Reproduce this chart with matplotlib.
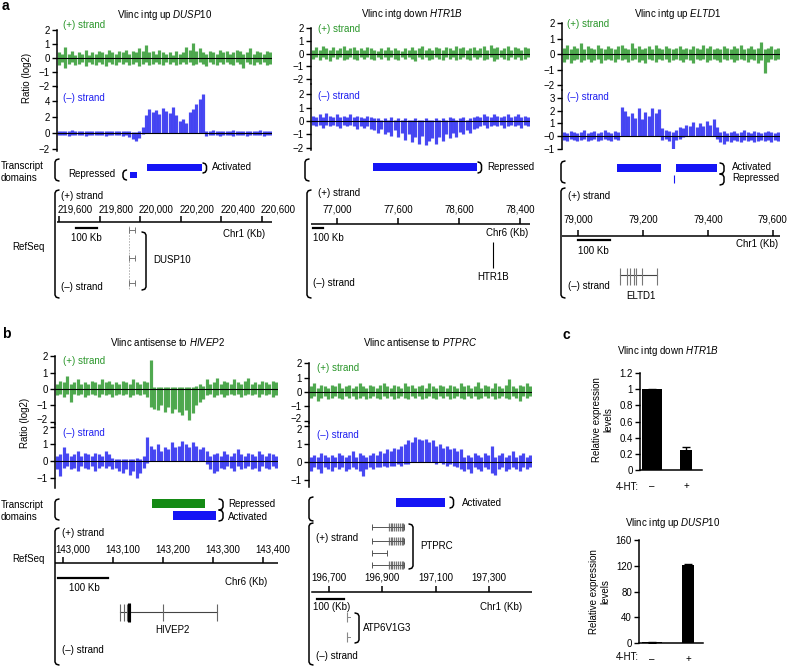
import matplotlib
matplotlib.use('Agg')
import matplotlib.pyplot as plt
import matplotlib.transforms as mtransforms
import numpy as np

plt.rcParams['font.family'] = ['Liberation Sans', 'DejaVu Sans']
plt.rcParams['mathtext.fontset'] = 'custom'
plt.rcParams['mathtext.it'] = 'Liberation Sans:italic'
plt.rcParams['mathtext.rm'] = 'Liberation Sans'

W, H = 788, 667
fig = plt.figure(figsize=(W / 100, H / 100), dpi=100)

# ---------------- data ----------------
# panel a, DUSP10 (+) and (-) strand envelopes (upper / lower)
a1p_up = [0.4,0.3,0.8,0.3,0.5,0.2,0.4,0.3,0.6,0.2,0.4,0.3,0.5,0.4,0.3,0.6,0.4,0.3,0.5,0.4,0.6,0.3,0.5,0.4,0.7,0.5,0.9,0.4,0.5,0.3,0.6,0.4,0.3,0.4,0.2,0.5,0.3,0.4,0.8,0.6,1.1,0.5,0.7,0.4,0.3,0.5,0.4,0.3,0.6,0.4,0.5,0.3,0.4,0.6,0.5,0.3,0.4,0.7,0.3,0.5,0.4,0.3,0.5,0.4]
a1p_dn = [-0.5,-0.3,-0.7,-0.4,-0.3,-0.5,-0.4,-0.3,-0.6,-0.3,-0.4,-0.5,-0.3,-0.4,-0.6,-0.3,-0.4,-0.5,-0.3,-0.4,-0.3,-0.5,-0.4,-0.3,-0.6,-0.4,-0.3,-0.5,-0.4,-0.3,-0.4,-0.5,-0.3,-0.4,-0.3,-0.5,-0.4,-0.3,-0.4,-0.3,-0.5,-0.4,-0.3,-0.4,-0.6,-0.3,-0.4,-0.5,-0.3,-0.4,-0.3,-0.4,-0.5,-0.3,-0.4,-0.7,-0.3,-0.4,-0.5,-0.3,-0.4,-0.3,-0.5,-0.4]
a1m_up = [0.3,0.2,0.3,0.2,0.4,0.2,0.3,0.2,0.3,0.3,0.2,0.3,0.2,0.3,0.2,0.3,0.2,0.3,0.2,0.3,0.2,0.2,0.1,0.1,0.2,0.8,2.2,3.0,2.6,2.9,2.4,3.1,2.7,2.5,3.2,2.3,1.5,1.8,1.2,2.6,3.0,3.6,4.2,4.9,0.3,0.2,0.4,0.2,0.3,0.2,0.3,0.2,0.4,0.2,0.3,0.2,0.3,0.2,0.3,0.2,0.4,0.2,0.3,0.2]
a1m_dn = [-0.3,-0.2,-0.3,-0.4,-0.2,-0.3,-0.2,-0.3,-0.4,-0.2,-0.3,-0.2,-0.3,-0.2,-0.4,-0.2,-0.3,-0.2,-0.3,-0.4,-0.3,-0.5,-0.8,-1.0,-0.6,-0.1,0,0,0,0,0,0,0,0,0,0,0,0,0,0,0,0,0,0,-0.4,-0.3,-0.2,-0.3,-0.4,-0.2,-0.3,-0.2,-0.4,-0.3,-0.2,-0.3,-0.4,-0.2,-0.3,-0.2,-0.3,-0.4,-0.2,-0.3]
# HTR1B
a2p_up = [0.3,0.5,0.3,0.6,0.4,0.3,0.5,0.3,0.4,0.6,0.3,0.4,0.5,0.3,0.4,0.3,0.5,0.4,0.3,0.2,0.4,0.3,0.5,0.3,0.4,0.3,0.2,0.4,0.3,0.5,0.3,0.4,0.6,0.3,0.4,0.3,0.5,0.4,0.3,0.5,0.4,0.3,0.6,0.4,0.5,0.3,0.4,0.5,0.3,0.4,0.6,0.3,0.7,0.4,0.5,0.3,0.4,0.6,0.3,0.5,0.4,0.3,0.5,0.4]
a2p_dn = [-0.4,-0.3,-0.5,-0.3,-0.4,-0.6,-0.3,-0.4,-0.3,-0.5,-0.4,-0.3,-0.4,-0.5,-0.3,-0.4,-0.3,-0.4,-0.5,-0.3,-0.4,-0.3,-0.5,-0.3,-0.4,-0.5,-0.3,-0.4,-0.3,-0.4,-0.6,-0.3,-0.4,-0.3,-0.5,-0.4,-0.3,-0.4,-0.5,-0.3,-0.4,-0.3,-0.5,-0.4,-0.3,-0.4,-0.5,-0.3,-0.4,-0.3,-0.5,-0.4,-0.3,-0.6,-0.4,-0.3,-0.4,-0.5,-0.3,-0.4,-0.3,-0.5,-0.4,-0.3]
a2m_up = [0.4,0.3,0.5,0.3,0.6,0.4,0.3,0.5,0.3,0.4,0.3,0.5,0.3,0.4,0.3,0.2,0.4,0.3,0.2,0.2,0.1,0.2,0.1,0.3,0.1,0.2,0.1,0.2,0.1,0.1,0.2,0.1,0.1,0.2,0.1,0.1,0.2,0.1,0.2,0.1,0.3,0.2,0.1,0.2,0.3,0.1,0.2,0.3,0.4,0.3,0.5,0.4,0.3,0.5,0.4,0.3,0.4,0.5,0.3,0.4,0.5,0.3,0.4,0.3]
a2m_dn = [-0.3,-0.4,-0.3,-0.5,-0.3,-0.4,-0.3,-0.4,-0.5,-0.3,-0.4,-0.3,-0.4,-0.6,-0.4,-0.5,-0.4,-0.6,-0.7,-0.9,-0.6,-1.0,-0.8,-1.1,-0.7,-1.2,-0.9,-1.4,-1.0,-1.6,-1.2,-1.7,-1.1,-1.8,-1.5,-1.3,-1.7,-1.2,-1.5,-1.0,-1.3,-0.9,-1.2,-0.8,-1.0,-0.7,-0.9,-0.6,-0.5,-0.4,-0.3,-0.5,-0.4,-0.3,-0.4,-0.3,-0.5,-0.4,-0.3,-0.4,-0.3,-0.5,-0.3,-0.4]
# ELTD1
a3p_up = [0.4,0.6,0.3,0.5,0.4,0.7,0.3,0.5,0.4,0.3,0.6,0.4,0.3,0.5,0.4,0.3,0.5,0.6,0.4,0.3,0.7,0.4,0.5,0.3,0.4,0.5,0.3,0.6,0.4,0.3,0.5,0.4,0.3,0.4,0.5,0.3,0.4,0.3,0.5,0.4,0.3,0.6,0.4,0.5,0.3,0.4,0.3,0.5,0.4,0.3,0.5,0.4,0.6,0.3,0.4,0.5,0.3,0.4,0.8,0.3,0.4,0.5,0.3,0.4]
a3p_dn = [-0.5,-0.3,-0.6,-0.4,-0.3,-0.5,-0.4,-0.3,-0.5,-0.4,-0.3,-0.6,-0.4,-0.3,-0.4,-0.5,-0.3,-0.4,-0.3,-0.5,-0.4,-0.3,-0.5,-0.4,-0.6,-0.3,-0.4,-0.5,-0.3,-0.4,-0.3,-0.5,-0.4,-0.3,-0.4,-0.5,-0.3,-0.4,-0.6,-0.3,-0.4,-0.3,-0.5,-0.4,-0.3,-0.4,-0.5,-0.3,-0.4,-0.3,-0.5,-0.4,-0.3,-0.4,-0.5,-0.3,-0.4,-0.6,-0.4,-1.2,-0.5,-0.3,-0.4,-0.3]
a3m_up = [0.3,0.2,0.4,0.3,0.2,0.3,0.5,0.2,0.3,0.4,0.2,0.3,0.5,0.3,0.2,0.4,0.3,2.3,2.0,1.6,1.8,1.4,2.2,1.3,1.9,1.6,2.2,1.8,2.1,0.6,0.5,0.4,0.3,0.5,0.7,0.6,0.9,0.8,1.1,0.7,1.0,0.8,1.2,0.9,1.3,0.7,0.3,0.4,0.2,0.3,0.4,0.2,0.3,0.5,0.3,0.2,0.4,0.3,0.2,0.3,0.4,0.3,0.2,0.3]
a3m_dn = [-0.3,-0.4,-0.2,-0.3,-0.4,-0.3,-0.2,-0.4,-0.3,-0.2,-0.4,-0.3,-0.2,-0.3,-0.4,-0.2,-0.3,0,0,0,0,0,0,0,0,0,0,0,0,-0.3,-0.2,-0.4,-1.0,-0.3,-0.2,-0.1,0,0,0,0,0,0,0,0,0,-0.2,-0.5,-0.6,-0.4,-0.5,-0.3,-0.4,-0.5,-0.3,-0.4,-0.3,-0.5,-0.4,-0.3,-0.4,-0.3,-0.5,-0.3,-0.4]
# panel b, HIVEP2
b1p_up = [0.3,0.5,0.4,0.8,0.3,0.4,0.6,0.3,0.4,0.3,0.5,0.4,0.3,0.6,0.4,0.5,0.3,0.4,0.3,0.5,0.4,0.3,0.6,0.4,0.3,0.5,0.4,1.8,0.1,0.1,0.1,0.1,0.1,0.1,0.1,0.1,0.1,0.1,0.1,0.1,0.2,0.3,0.2,0.6,0.3,0.4,0.7,0.3,0.5,0.4,0.3,0.6,0.4,0.3,0.5,0.7,0.3,0.4,0.3,0.5,0.4,0.3,0.5,0.4]
b1p_dn = [-0.4,-0.3,-0.5,-0.3,-0.8,-0.3,-0.4,-0.3,-0.5,-0.4,-0.3,-0.4,-0.5,-0.3,-0.4,-0.3,-0.5,-0.4,-0.3,-0.4,-0.3,-0.5,-0.4,-0.3,-0.4,-0.3,-0.5,-1.1,-1.2,-1.3,-1.0,-1.4,-1.1,-1.5,-1.2,-1.4,-1.6,-1.3,-1.9,-1.5,-1.0,-0.8,-0.6,-0.4,-0.3,-0.5,-0.4,-0.3,-0.5,-0.4,-0.3,-0.4,-0.3,-0.5,-0.4,-0.3,-0.4,-0.3,-0.5,-0.3,-0.4,-0.3,-0.5,-0.4]
b1m_up = [0.3,0.4,0.8,0.5,0.3,0.4,0.6,0.3,0.5,0.4,0.3,0.5,0.4,0.3,0.6,0.4,0.2,0.1,0.1,0.1,0.1,0.1,0.1,0.2,0.1,0.3,1.4,0.9,0.7,1.0,0.6,0.8,0.7,1.1,0.8,0.9,1.2,1.0,0.8,1.1,0.9,0.7,0.8,0.6,0.3,0.4,0.5,0.3,0.6,0.4,0.3,0.5,0.7,0.4,0.3,0.5,0.4,0.3,0.6,0.4,0.3,0.5,0.4,0.3]
b1m_dn = [-0.5,-0.9,-0.4,-0.3,-0.5,-0.4,-0.6,-0.3,-0.4,-0.5,-0.3,-0.6,-0.4,-0.3,-0.4,-0.3,-0.5,-0.4,-0.6,-0.7,-0.5,-0.8,-0.6,-1.0,-0.7,-0.4,-0.1,0,0,0,0,0,0,0,0,0,0,0,0,0,0,0,0,-0.2,-0.5,-0.7,-0.6,-0.4,-0.5,-0.3,-0.4,-0.6,-0.3,-0.5,-0.4,-0.3,-0.5,-0.4,-0.6,-0.3,-0.4,-0.5,-0.3,-0.4]
# PTPRC
b2p_up = [0.4,0.6,0.3,0.5,0.4,0.3,0.5,0.4,0.6,0.3,0.4,0.5,0.3,0.4,0.6,0.4,0.3,0.5,0.4,0.3,0.5,0.6,0.4,0.3,0.5,0.4,0.3,0.6,0.4,0.5,0.3,0.4,0.5,0.3,0.6,0.4,0.3,0.5,0.4,0.3,0.5,0.4,0.3,0.6,0.4,0.5,0.3,0.4,0.7,0.3,0.5,0.4,0.3,0.6,0.4,0.3,0.5,0.9,0.4,0.3,0.5,0.4,0.6,0.4]
b2p_dn = [-0.4,-0.3,-0.6,-0.4,-0.3,-0.5,-0.4,-0.3,-0.4,-0.5,-0.3,-0.4,-0.3,-0.5,-0.4,-0.3,-0.5,-0.4,-0.3,-0.4,-0.5,-0.3,-0.4,-0.3,-0.5,-0.4,-0.3,-0.4,-0.5,-0.3,-0.4,-0.3,-0.5,-0.4,-0.3,-0.4,-0.5,-0.3,-0.4,-0.3,-0.5,-0.4,-0.3,-0.4,-0.5,-0.3,-0.4,-0.3,-0.5,-0.4,-0.3,-0.4,-0.3,-0.5,-0.4,-0.3,-0.4,-0.5,-0.3,-0.4,-0.6,-0.3,-0.4,-0.3]
b2m_up = [0.3,0.4,0.3,0.5,0.4,0.3,0.4,0.3,0.5,0.4,0.3,0.4,0.6,0.3,0.5,0.4,0.3,0.4,0.5,0.4,0.6,0.5,0.7,0.6,0.8,0.7,0.9,1.0,1.2,1.1,1.4,1.3,1.2,1.3,1.1,1.2,0.9,1.0,0.8,0.9,0.7,0.8,0.6,0.7,0.3,0.4,0.3,0.5,0.4,0.3,0.5,0.4,0.9,0.3,0.4,0.5,0.3,0.4,0.6,0.3,0.4,0.5,0.3,0.4]
b2m_dn = [-0.5,-0.3,-0.4,-0.6,-0.3,-0.4,-0.5,-0.3,-0.4,-0.3,-0.5,-0.4,-0.3,-0.4,-0.5,-0.8,-0.4,-0.3,-0.4,-0.3,-0.3,-0.2,-0.3,-0.2,-0.2,-0.1,-0.2,-0.1,-0.1,0,0,0,0,0,0,0,-0.1,0,-0.1,-0.2,-0.1,-0.2,-0.3,-0.4,-0.5,-0.4,-0.6,-0.3,-0.4,-0.5,-0.3,-0.4,-0.6,-0.7,-0.4,-0.3,-0.5,-0.4,-0.3,-0.4,-0.5,-0.3,-0.4,-0.3]

# genomic coordinates (Kb)
a1_ticks = [219600, 219800, 220000, 220200, 220400, 220600]
a1_ticklabels = ['219,600', '219,800', '220,000', '220,200', '220,400', '220,600']
a2_ticks = [77000, 77600, 78200, 78800]
a2_ticklabels = ['77,000', '77,600', '78,600', '78,400']
a3_ticks = [79000, 79200, 79400, 79600]
a3_ticklabels = ['79,000', '79,200', '79,400', '79,600']
b1_ticks = [143000, 143100, 143200, 143300, 143400]
b1_ticklabels = ['143,000', '143,100', '143,200', '143,300', '143,400']
b2_ticks = [196700, 196900, 197100, 197300]
b2_ticklabels = ['196,700', '196,900', '197,100', '197,300']

a1_activated = (220033, 220304)
a1_repressed = (219950, 219984)
a2_repressed = (77354, 78377)
a3_domains = [(79120, 79255), (79302, 79428)]
a3_repressed_mark = 79295
b1_repressed = (143178, 143284)
b1_activated = (143220, 143306)
b2_activated = (196951, 197135)

dusp10 = (219945, 219975)
htr1b = 78534
eltd1 = (79129, 79243)
eltd1_exons = [79129, 79151, 79160, 79172, 79178, 79197, 79243]
hivep2 = (143114, 143308)
hivep2_exons = [143114, 143122, 143128, 143134, 143200, 143308]
hivep2_thick = 143132
ptprc_start = 196861
ptprc_ends = [196981, 196981, 196918, 196981]
ptprc_exons = [196925, 196932, 196938, 196944, 196950, 196958, 196965, 196972, 196978]
atp6v1g3 = 196767

# panel c
c_groups = ['–', '+']
c1_values = [1.0, 0.25]
c1_err = [0.005, 0.04]
c2_values = [1.0, 121.0]
c2_err = [0.3, 1.0]

GREEN = '#2a962a'
BLUE = '#2020f0'
DOM_BLUE = '#1515f5'
DOM_GREEN = '#148a14'
FS = 7


def pax(x0, y0, x1, y1):
    return fig.add_axes([x0 / W, 1 - y1 / H, (x1 - x0) / W, (y1 - y0) / H])


ov = fig.add_axes([0, 0, 1, 1])
ov.set_xlim(0, W)
ov.set_ylim(H, 0)
ov.axis('off')


def txt(x, y, s, ha='left', va='center', **kw):
    kw.setdefault('fontsize', FS)
    ov.text(x, y, s, ha=ha, va=va, **kw)


def lbrack(x, y0, y1, w=4):
    ov.plot([x + w, x + 1.2, x, x, x + 1.2, x + w], [y0, y0 + 0.8, y0 + 3, y1 - 3, y1 - 0.8, y1],
            color='black', lw=1.1, solid_capstyle='round')


def rbrack(x, y0, y1, w=4):
    ov.plot([x, x + w - 1.2, x + w, x + w, x + w - 1.2, x], [y0, y0 + 0.8, y0 + 3, y1 - 3, y1 - 0.8, y1],
            color='black', lw=1.1, solid_capstyle='round')


def shift_label(ax, idx, dy_px):
    lab = ax.get_yticklabels()[idx]
    off = mtransforms.ScaledTranslation(0, -dy_px / 100, fig.dpi_scale_trans)
    lab.set_transform(lab.get_transform() + off)


def track(box, up, dn, color, ylim, ticks, labels=None):
    x0, x1, y0, y1 = box
    ax = pax(x0, y0, x1, y1)
    n = len(up)
    x = np.arange(n)
    ax.vlines(x, dn, up, color=color, lw=2.3, alpha=0.82)
    ax.axhline(0, color='black', lw=0.8)
    ax.set_xlim(-0.5, n - 0.5)
    ax.set_ylim(*ylim)
    for s in ['top', 'right', 'bottom']:
        ax.spines[s].set_visible(False)
    ax.spines['left'].set_linewidth(1.1)
    ax.set_xticks([])
    ax.set_yticks(ticks)
    if labels is not None:
        ax.set_yticklabels(labels)
    ax.tick_params(axis='y', length=3.5, width=1, labelsize=FS, pad=1.5)
    ax.patch.set_alpha(0)
    return ax


def kbax(x0, x1, y0, y1, xlim):
    ax = pax(x0, y0, x1, y1)
    ax.set_xlim(*xlim)
    ax.set_ylim(y1, y0)
    ax.axis('off')
    ax.patch.set_alpha(0)
    return ax


def genome_axis(ax, ticks, labels, yaxis, ylab, xstart, xend, lab_off=0):
    ax.plot([xstart, xend], [yaxis, yaxis], color='black', lw=1.1)
    ax.vlines(ticks, yaxis - 6, yaxis, color='black', lw=1.1)
    for t, l in zip(ticks, labels):
        ax.text(t + lab_off, ylab, l, ha='center', va='center', fontsize=FS, clip_on=False)


def dom(ax, span, y0, y1, color):
    ax.barh((y0 + y1) / 2, span[1] - span[0], left=span[0], height=y1 - y0, color=color, lw=0)


# ---------------- panel a ----------------
txt(2, 6, 'a', fontsize=10, fontweight='bold')
txt(165, 15, r'Vlinc intg up $\mathit{DUSP10}$', ha='center')
txt(412, 14, r'Vlinc intg down $\mathit{HTR1B}$', ha='center')
txt(678, 14, r'Vlinc intg up $\mathit{ELTD1}$', ha='center')

track((57, 272, 30, 87), a1p_up, a1p_dn, GREEN, (-2.07, 2.0), [-2, -1, 0, 1, 2])
track((57, 272, 87, 151), a1m_up, a1m_dn, BLUE, (-2.25, 5.75), [-2, 0, 2, 4])
track((311, 530, 28, 84), a2p_up, a2p_dn, GREEN, (-2.39, 2.0), [-2, -1, 0, 1, 2])
track((311, 530, 84, 150), a2m_up, a2m_dn, BLUE, (-2.16, 2.76), [-2, -1, 0, 1, 2])
track((562, 780, 23, 90), a3p_up, a3p_dn, GREEN, (-2.32, 2.0), [-2, -1, 0, 1, 2])
track((562, 780, 90, 149), a3m_up, a3m_dn, BLUE, (-1.02, 3.61), [-1, 0, 1, 2, 3],
      ['−1', '−0', '1', '2', '3'])

for (x, yp, ym) in [(63, 25, 98), (318, 29, 96), (567, 24, 97)]:
    txt(x, yp, '(+) strand', color=GREEN)
    txt(x, ym, '(–) strand', color=BLUE)
txt(27, 78, 'Ratio (log2)', ha='center', rotation=90)

txt(1, 172, 'Transcript\ndomains', linespacing=1.15)
txt(12, 247, 'RefSeq')

# a1 annotation
k1 = kbax(57, 272, 155, 300, (219590, 220649))
dom(k1, a1_activated, 164, 171, DOM_BLUE)
dom(k1, a1_repressed, 172, 178, DOM_BLUE)
genome_axis(k1, a1_ticks, a1_ticklabels, 222, 210, 219600 - 2 / 0.203, 220649, lab_off=80)
k1.plot([219685, 219785], [228, 228], color='black', lw=1.6)
k1.vlines(dusp10[0], 226, 290, color='#aaaaaa', lw=0.6, linestyles=(0, (2, 1.5)))
for yy in [230, 258, 283]:
    k1.plot(list(dusp10), [yy, yy], color='#777777', lw=0.7)
    k1.vlines(list(dusp10), yy - 3, yy + 3, color='#777777', lw=0.7)
lbrack(55, 159, 181)
lbrack(123, 170, 180, w=3.5)
txt(115, 174, 'Repressed', ha='right')
rbrack(203, 163, 173, w=3.5)
txt(212, 167, 'Activated')
lbrack(55, 190, 298)
txt(61, 196, '(+) strand')
txt(86, 238, '100 Kb', ha='center')
txt(265, 234, 'Chr1 (Kb)', ha='right')
rbrack(142, 232, 290, w=4)
txt(153, 260, 'DUSP10')
txt(61, 287, '(–) strand')

# a2 annotation
k2 = kbax(311, 530, 155, 300, (76744, 78898))
dom(k2, a2_repressed, 163, 171, DOM_BLUE)
genome_axis(k2, a2_ticks, a2_ticklabels, 224, 210, 76744, 78898)
k2.plot([76763, 76863], [228, 228], color='black', lw=1.6)
k2.vlines(htr1b, 242, 268, color='black', lw=0.8)
lbrack(305, 159, 181)
rbrack(478, 162, 173, w=3.5)
txt(487, 167, 'Repressed')
lbrack(307, 190, 298)
txt(318, 193, '(+) strand')
txt(313, 238, '100 Kb')
txt(528, 233, 'Chr6 (Kb)', ha='right')
txt(493, 277, 'HTR1B', ha='center')
txt(313, 283, '(–) strand')

# a3 annotation
k3 = kbax(562, 780, 155, 300, (78951, 79622))
for d in a3_domains:
    dom(k3, d, 164, 172, DOM_BLUE)
k3.vlines(a3_repressed_mark, 175, 183, color=DOM_BLUE, lw=0.8)
genome_axis(k3, a3_ticks, a3_ticklabels, 236, 220, 78951, 79622)
k3.plot([79000, 79098], [240, 240], color='black', lw=1.6)
k3.plot(list(eltd1), [275, 275], color='#444444', lw=0.8)
k3.vlines(eltd1_exons, 268, 285, color='#777777', lw=0.8)
lbrack(561, 161, 183)
rbrack(720, 163, 174, w=4)
rbrack(720, 174, 185, w=4)
txt(732, 167, 'Activated')
txt(732, 178, 'Repressed')
lbrack(561, 188, 298)
txt(568, 196, '(+) strand')
txt(593, 251, '100 Kb', ha='center')
txt(778, 244, 'Chr1 (Kb)', ha='right')
txt(641, 296, 'ELTD1', ha='center')
txt(568, 286, '(–) strand')

# ---------------- panel b ----------------
txt(2, 334, 'b', fontsize=10, fontweight='bold')
txt(168, 342, r'Vlinc antisense to $\mathit{HIVEP2}$', ha='center')
txt(420, 342, r'Vlinc antisense to $\mathit{PTPRC}$', ha='center')

t = track((55, 278, 356, 424), b1p_up, b1p_dn, GREEN, (-2.15, 2.02), [-2, -1, 0, 1, 2])
shift_label(t, 0, -3)
t = track((55, 278, 424, 488), b1m_up, b1m_dn, BLUE, (-1.59, 2.18), [-1, 0, 1, 2])
shift_label(t, 3, 3)
t = track((309, 532, 363, 423), b2p_up, b2p_dn, GREEN, (-2.17, 2.03), [-2, -1, 0, 1, 2])
shift_label(t, 0, -3)
t = track((309, 532, 423, 487), b2m_up, b2m_dn, BLUE, (-1.39, 2.17), [-1, 0, 1, 2])
shift_label(t, 3, 3)

for (x, yp, ym) in [(63, 361, 433), (317, 368, 435)]:
    txt(x, yp, '(+) strand', color=GREEN)
    txt(x, ym, '(–) strand', color=BLUE)
txt(25, 423, 'Ratio (log2)', ha='center', rotation=90)
txt(1, 511, 'Transcript\ndomains', linespacing=1.15)
txt(12, 559, 'RefSeq')

# b1 annotation
m1 = kbax(55, 278, 495, 667, (142984, 143430))
dom(m1, b1_repressed, 499, 508, DOM_GREEN)
dom(m1, b1_activated, 511, 520, DOM_BLUE)
genome_axis(m1, b1_ticks, b1_ticklabels, 563, 549, 142984, 143430, lab_off=20)
m1.plot([142990, 143090], [578, 578], color='black', lw=1.6)
m1.plot(list(hivep2), [612, 612], color='#444444', lw=0.8)
m1.vlines(hivep2_exons, 604, 621, color='#666666', lw=0.8)
m1.vlines(hivep2_thick, 603, 622, color='black', lw=2.2)
lbrack(55, 499, 520)
rbrack(219, 499, 510, w=4)
rbrack(219, 510, 521, w=4)
txt(228, 504, 'Repressed')
txt(228, 517, 'Activated')
lbrack(55, 528, 665)
txt(62, 533, '(+) strand')
txt(84, 588, '100 Kb', ha='center')
txt(267, 582, 'Chr6 (Kb)', ha='right')
txt(172, 630, 'HIVEP2', ha='center')
txt(62, 650, '(–) strand')

# b2 annotation
m2 = kbax(309, 532, 495, 667, (196625, 197461))
dom(m2, b2_activated, 498, 507, DOM_BLUE)
for yy, e in zip([527, 541, 553, 565], ptprc_ends):
    m2.plot([ptprc_start, e], [yy, yy], color='#555555', lw=0.7)
    m2.vlines([ptprc_start, e], yy - 3, yy + 3, color='#555555', lw=0.7)
    if e > ptprc_exons[-1]:
        m2.vlines(ptprc_exons, yy - 4, yy + 4, color='#555555', lw=0.9, alpha=0.8)
genome_axis(m2, b2_ticks, b2_ticklabels, 592, 577, 196625 + 3 / 0.2667, 197461)
m2.plot([196655, 196755], [599, 599], color='black', lw=1.6)
for yy in [617, 637]:
    m2.vlines(atp6v1g3, yy - 5, yy + 5, color='#888888', lw=0.8)
    m2.plot([atp6v1g3, atp6v1g3 + 12], [yy, yy], color='#888888', lw=0.7)
lbrack(309, 497, 521)
rbrack(450, 497, 508, w=3.5)
txt(462, 503, 'Activated')
lbrack(309, 523, 665)
rbrack(409, 524, 569, w=4)
txt(420, 546, 'PTPRC')
txt(316, 538, '(+) strand')
txt(313, 607, '100 (Kb)')
txt(522, 607, 'Chr1 (Kb)', ha='right')
rbrack(355, 613, 643, w=4)
txt(363, 628, 'ATP6V1G3')
txt(316, 656, '(–) strand')

# ---------------- panel c ----------------
txt(563, 335, 'c', fontsize=10, fontweight='bold')
txt(668, 351, r'Vlinc intg down $\mathit{HTR1B}$', ha='center')
txt(673, 523, r'Vlinc intg up $\mathit{DUSP10}$', ha='center')


def cbar(box, values, err, xlim, ylim, ticks, ticklabels, widths):
    x0, x1, y0, y1 = box
    ax = pax(x0, y0, x1, y1)
    ax.bar([0, 1], values, width=widths, color='black', yerr=err,
           error_kw=dict(ecolor='black', capsize=3, elinewidth=1, capthick=1))
    ax.set_xlim(*xlim)
    ax.set_ylim(*ylim)
    for s in ['top', 'right']:
        ax.spines[s].set_visible(False)
    ax.spines['left'].set_linewidth(1.1)
    ax.spines['bottom'].set_linewidth(1.1)
    ax.set_xticks([0, 1])
    ax.set_xticklabels(c_groups)
    ax.tick_params(axis='x', length=0, labelsize=FS, pad=8)
    ax.set_yticks(ticks)
    ax.set_yticklabels(ticklabels)
    ax.tick_params(axis='y', length=3.5, width=1, labelsize=FS, pad=1.5)
    ax.patch.set_alpha(0)
    return ax


cbar((640, 702, 373, 470), c1_values, c1_err, (-0.353, 1.47), (0, 1.2),
     [0, 0.2, 0.4, 0.6, 0.8, 1.0, 1.2], ['0', '0.2', '0.4', '0.6', '0.8', '1', '1.2'], [0.59, 0.35])
cbar((639, 703, 540, 643), c2_values, c2_err, (-0.36, 1.42), (0, 160),
     [0, 40, 80, 120, 160], ['0', '40', '80', '120', '160'], [0.55, 0.33])
txt(603, 420, 'Relative expression\nlevels', ha='center', rotation=90, linespacing=1.15)
txt(600, 592, 'Relative expression\nlevels', ha='center', rotation=90, linespacing=1.15)
txt(627, 487, '4-HT:', ha='center')
txt(627, 657, '4-HT:', ha='center')

fig.savefig('out.png', dpi=100)
